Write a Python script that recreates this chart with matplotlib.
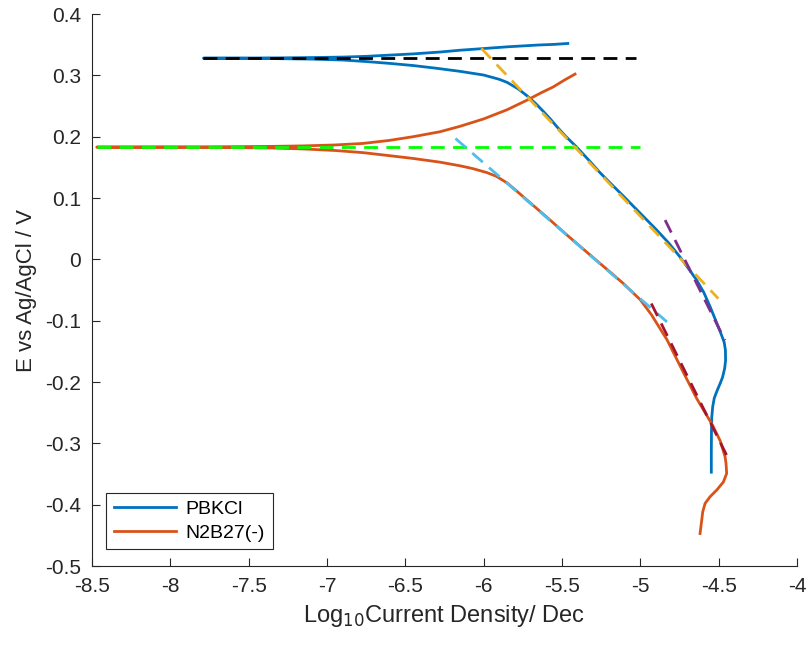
import matplotlib
matplotlib.use("Agg")
import matplotlib.pyplot as plt

plt.rcParams['font.family'] = ['Liberation Sans', 'DejaVu Sans']

# PBKCl polarisation curve (anodic branch right->left, then cathodic branch)
pb_x = [-5.463, -5.55, -5.65, -5.75, -5.85, -5.985, -6.15, -6.28, -6.45, -6.6,
        -6.75, -6.9, -7.1, -7.3, -7.55, -7.789,
        -7.55, -7.3, -7.1, -6.9, -6.75, -6.6, -6.45, -6.3, -6.15, -6.0, -5.9,
        -5.85, -5.78, -5.72, -5.67, -5.62, -5.57, -5.53, -5.48, -5.41, -5.33,
        -5.26, -5.21, -5.1, -5.0, -4.9, -4.82, -4.747, -4.69, -4.64, -4.595,
        -4.555, -4.52, -4.49, -4.465, -4.457, -4.456, -4.462, -4.475, -4.49,
        -4.51, -4.528, -4.538, -4.544, -4.546, -4.547, -4.547]
pb_y = [0.352, 0.3505, 0.3495, 0.348, 0.3465, 0.344, 0.341, 0.338, 0.335, 0.333,
        0.331, 0.3298, 0.329, 0.3285, 0.3282, 0.328,
        0.3278, 0.3272, 0.3265, 0.325, 0.3225, 0.3195, 0.316, 0.3115, 0.3065, 0.3005, 0.2935,
        0.2885, 0.278, 0.266, 0.2545, 0.2415, 0.2275, 0.2155, 0.2015, 0.184, 0.162,
        0.142, 0.129, 0.101, 0.075, 0.049, 0.027, 0.004, -0.016, -0.034, -0.054,
        -0.077, -0.099, -0.118, -0.135, -0.148, -0.165, -0.178, -0.192, -0.202,
        -0.214, -0.226, -0.240, -0.257, -0.280, -0.315, -0.347]

# N2B27(-) polarisation curve (anodic branch right->left, then cathodic branch)
n2_x = [-5.417, -5.48, -5.557, -5.63, -5.72, -5.85, -6.0, -6.15, -6.28, -6.45,
        -6.6, -6.77, -6.95, -7.15, -7.35, -7.6, -8.0, -8.47,
        -8.0, -7.6, -7.35, -7.15, -6.95, -6.77, -6.6, -6.45, -6.28, -6.15, -6.07,
        -5.98, -5.92, -5.85, -5.79, -5.7, -5.58, -5.47, -5.32, -5.21, -5.11,
        -5.0, -4.93, -4.83, -4.73, -4.64, -4.54, -4.49, -4.459, -4.453, -4.449,
        -4.47, -4.512, -4.555, -4.587, -4.602, -4.608, -4.619]
n2_y = [0.302, 0.293, 0.281, 0.272, 0.260, 0.244, 0.229, 0.217, 0.208, 0.200,
        0.194, 0.189, 0.1865, 0.185, 0.1842, 0.1837, 0.1833, 0.183,
        0.1828, 0.1823, 0.1815, 0.180, 0.1775, 0.174, 0.169, 0.1645, 0.1585, 0.1525, 0.148,
        0.1415, 0.1355, 0.1245, 0.1115, 0.0915, 0.065, 0.040, 0.007, -0.017, -0.039,
        -0.066, -0.090, -0.131, -0.182, -0.227, -0.270, -0.296, -0.322, -0.333, -0.349,
        -0.363, -0.376, -0.387, -0.398, -0.412, -0.425, -0.447]

# Fitted / reference dashed lines
black_x, black_y = [-7.789, -5.03], [0.328, 0.328]
green_x, green_y = [-8.47, -5.0], [0.183, 0.183]
yellow_x, yellow_y = [-6.015, -4.502], [0.344, -0.064]
lblue_x, lblue_y = [-6.18, -4.83], [0.197, -0.102]
purple_x, purple_y = [-4.842, -4.46], [0.064, -0.132]
dred_x, dred_y = [-4.93, -4.45], [-0.072, -0.319]

xticks = [-8.5, -8, -7.5, -7, -6.5, -6, -5.5, -5, -4.5, -4]
xticklabels = ['-8.5', '-8', '-7.5', '-7', '-6.5', '-6', '-5.5', '-5', '-4.5', '-4']
yticks = [-0.5, -0.4, -0.3, -0.2, -0.1, 0, 0.1, 0.2, 0.3, 0.4]
yticklabels = ['-0.5', '-0.4', '-0.3', '-0.2', '-0.1', '0', '0.1', '0.2', '0.3', '0.4']

fig = plt.figure(figsize=(8.08, 6.46), dpi=100)
ax = fig.add_axes([0.1139, 0.1238, 0.8725, 0.8545])

blue = '#0072BD'
orange = '#D95319'
lw = 2.0
dash = (5, 3)

l1, = ax.plot(pb_x, pb_y, color=blue, lw=lw, label='PBKCl', zorder=3,
              solid_joinstyle='round')
l2, = ax.plot(n2_x, n2_y, color=orange, lw=lw, label='N2B27(-)', zorder=3,
              solid_joinstyle='round')
ax.plot(black_x, black_y, color='black', lw=lw, dashes=dash, zorder=4)
ax.plot(green_x, green_y, color='#00FF00', lw=lw, dashes=dash, zorder=4)
ax.plot(yellow_x, yellow_y, color='#EDB120', lw=lw, dashes=dash, zorder=4)
ax.plot(lblue_x, lblue_y, color='#4DBEEE', lw=lw, dashes=dash, zorder=4)
ax.plot(purple_x, purple_y, color='#7E2F8E', lw=lw, dashes=dash, zorder=4)
ax.plot(dred_x, dred_y, color='#A2142F', lw=lw, dashes=dash, zorder=4)

ax.set_xlim(-8.5, -4)
ax.set_ylim(-0.5, 0.4)
ax.set_xticks(xticks)
ax.set_xticklabels(xticklabels)
ax.set_yticks(yticks)
ax.set_yticklabels(yticklabels)

tc = '#262626'
for s in ['top', 'right']:
    ax.spines[s].set_visible(False)
for s in ['left', 'bottom']:
    ax.spines[s].set_color(tc)
    ax.spines[s].set_linewidth(0.8)
ax.tick_params(direction='in', length=6, width=0.8, color=tc, labelcolor=tc,
               labelsize=15)
ax.tick_params(axis='x', pad=8)
ax.tick_params(axis='y', pad=8)

ax.set_xlabel('Log$_{10}$Current Density/ Dec', fontsize=17, color=tc, labelpad=5)
ax.set_ylabel('E vs Ag/AgCl / V', fontsize=16, color=tc, labelpad=6)

leg = ax.legend(handles=[l1, l2], loc='lower left', bbox_to_anchor=(0.02, 0.03),
                fontsize=14, frameon=True, fancybox=False, framealpha=1,
                edgecolor='#262626', handlelength=3.2, borderpad=0.4,
                labelspacing=0.3, handletextpad=0.5, borderaxespad=0)
leg.get_frame().set_linewidth(0.8)

fig.savefig('out.png', dpi=100)
